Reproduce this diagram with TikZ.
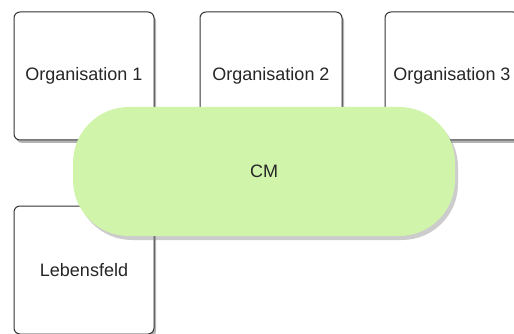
\documentclass[tikz,border=0pt]{standalone}
\usepackage{fontspec}
\setmainfont{Liberation Sans}
\usepackage{tikz}
\usetikzlibrary{positioning, shadows}
\definecolor{cmgreen}{RGB}{208,245,170}
\tikzstyle{orgbox} = [rectangle, rounded corners=6pt, minimum width=140pt, minimum height=128pt, text centered, draw=black!80, line width=1pt, fill=white, text=black!85, drop shadow={shadow xshift=2pt, shadow yshift=-3pt, opacity=.6}]
\tikzstyle{hub} = [rectangle, rounded corners=56pt, minimum width=382pt, minimum height=129pt, text centered, fill=cmgreen, text=black!85, drop shadow={shadow xshift=3pt, shadow yshift=-4pt, opacity=.4}]

\begin{document}
\begin{tikzpicture}[x=1pt, y=-1pt, font=\fontsize{18}{21}\selectfont]
    \useasboundingbox (0,0) rectangle (514,334);
    \node (org1) [orgbox] at (84,76) {Organisation 1};
    \node (org2) [orgbox, right=45pt of org1, minimum width=142pt] {Organisation 2};
    \node (org3) [orgbox, right=42pt of org2, minimum width=134pt] {Organisation 3};
    \node (life) [orgbox, below=65pt of org1] {Lebensfeld};
    % the green hub sits on top of the boxes
    \node (cm) [hub] at (264,171.5) {CM};
\end{tikzpicture}
\end{document}
